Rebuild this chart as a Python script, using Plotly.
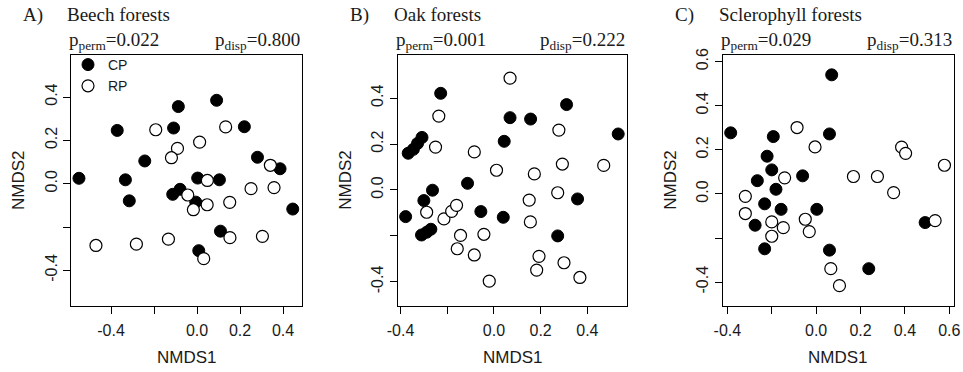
import plotly.graph_objects as go

W, H = 963, 372

# ---------------- data ----------------
panel_letters = ["A)", "B)", "C)"]
panel_titles = ["Beech forests", "Oak forests", "Sclerophyll forests"]
p_perm = ["0.022", "0.001", "0.029"]
p_disp = ["0.800", "0.222", "0.313"]
group_names = ["CP", "RP"]

a_cp_x = [-0.087, 0.091, -0.371, -0.109, 0.220, -0.243, 0.281, 0.386, -0.549, -0.333,
          0.003, 0.104, -0.079, -0.113, -0.315, -0.006, 0.445, 0.109, 0.008]
a_cp_y = [0.356, 0.385, 0.246, 0.257, 0.263, 0.105, 0.122, 0.069, 0.025, 0.018,
          0.026, 0.018, -0.026, -0.049, -0.079, -0.085, -0.117, -0.219, -0.309]
a_rp_x = [-0.192, 0.133, 0.012, -0.091, -0.119, 0.341, 0.048, 0.251, 0.358, -0.043,
          0.047, 0.152, -0.017, -0.470, -0.282, -0.133, 0.153, 0.304, 0.031]
a_rp_y = [0.249, 0.262, 0.192, 0.163, 0.120, 0.085, 0.015, -0.023, -0.018, -0.052,
          -0.097, -0.086, -0.120, -0.285, -0.279, -0.256, -0.249, -0.243, -0.346]

b_cp_x = [0.311, 0.069, 0.157, 0.532, -0.367, -0.345, -0.327, -0.308, 0.044, -0.113,
          -0.263, -0.300, -0.378, -0.056, 0.040, 0.358, -0.310, -0.288, -0.270, 0.273,
          -0.228]
b_cp_y = [0.372, 0.315, 0.309, 0.244, 0.160, 0.177, 0.203, 0.229, 0.212, 0.029,
          -0.001, -0.046, -0.116, -0.094, -0.119, -0.039, -0.196, -0.184, -0.171, -0.200,
          0.421]
b_rp_x = [0.069, -0.236, 0.278, -0.250, -0.084, 0.011, 0.173, 0.293, 0.470, 0.273,
          0.151, -0.288, -0.214, -0.181, -0.160, 0.156, -0.143, -0.043, -0.157, -0.084,
          0.193, 0.300, 0.183, -0.020, 0.368]
b_rp_y = [0.487, 0.322, 0.261, 0.187, 0.166, 0.086, 0.070, 0.113, 0.107, -0.012,
          -0.044, -0.097, -0.126, -0.093, -0.067, -0.139, -0.198, -0.193, -0.256, -0.283,
          -0.289, -0.317, -0.349, -0.397, -0.381]

c_cp_x = [0.070, -0.385, -0.193, 0.060, -0.221, -0.200, -0.265, -0.061, -0.181, -0.232,
          -0.158, 0.003, -0.275, -0.232, 0.060, 0.237, 0.491]
c_cp_y = [0.540, 0.277, 0.260, 0.272, 0.171, 0.109, 0.060, 0.082, 0.021, -0.045,
          -0.070, -0.070, -0.142, -0.249, -0.255, -0.339, -0.130]
c_rp_x = [-0.086, -0.005, 0.385, 0.403, 0.578, 0.168, 0.276, 0.349, -0.142, -0.319,
          -0.319, -0.200, -0.148, -0.049, -0.031, -0.200, 0.536, 0.066, 0.105]
c_rp_y = [0.301, 0.213, 0.212, 0.184, 0.130, 0.079, 0.079, 0.006, 0.073, -0.011,
          -0.089, -0.127, -0.153, -0.115, -0.171, -0.192, -0.121, -0.339, -0.416]

x_ticks = [[-0.4, -0.2, 0.0, 0.2, 0.4], [-0.4, -0.2, 0.0, 0.2, 0.4], [-0.4, -0.2, 0.0, 0.2, 0.4, 0.6]]
x_ticktext = [["-0.4", "", "0.0", "0.2", "0.4"], ["-0.4", "", "0.0", "0.2", "0.4"],
              ["-0.4", "", "0.0", "0.2", "0.4", "0.6"]]
y_ticks = [[-0.4, -0.2, 0.0, 0.2, 0.4], [-0.4, -0.2, 0.0, 0.2, 0.4], [-0.4, -0.2, 0.0, 0.2, 0.4, 0.6]]
y_ticktext = [["-0.4", "", "0.0", "0.2", "0.4"], ["-0.4", "", "0.0", "0.2", "0.4"],
              ["-0.4", "", "0.0", "0.2", "0.4", "0.6"]]

x_ranges = [[-0.586, 0.488], [-0.412, 0.571], [-0.421, 0.621]]
y_ranges = [[-0.563, 0.594], [-0.504, 0.588], [-0.507, 0.630]]

# ---------------- layout geometry (pixels) ----------------
box_left = [71, 397.7, 722.7]
box_right = [302, 627.3, 954]
box_top, box_bottom = 55, 305.7

serif = "Liberation Serif, Times New Roman, serif"
sans = "Liberation Sans, Arial, sans-serif"
ink = "#1a1a1a"

fig = go.Figure()
series = [((a_cp_x, a_cp_y), (a_rp_x, a_rp_y)),
          ((b_cp_x, b_cp_y), (b_rp_x, b_rp_y)),
          ((c_cp_x, c_cp_y), (c_rp_x, c_rp_y))]

for i, (cp, rp) in enumerate(series):
    xa = "x" if i == 0 else f"x{i+1}"
    ya = "y" if i == 0 else f"y{i+1}"
    fig.add_trace(go.Scatter(x=cp[0], y=cp[1], mode="markers", name=group_names[0],
                             xaxis=xa, yaxis=ya, showlegend=(i == 0), legendgroup="cp",
                             marker=dict(size=12, color="black", line=dict(color="black", width=1))))
    fig.add_trace(go.Scatter(x=rp[0], y=rp[1], mode="markers", name=group_names[1],
                             xaxis=xa, yaxis=ya, showlegend=(i == 0), legendgroup="rp",
                             marker=dict(size=12, color="white", line=dict(color="black", width=1.2))))

layout = dict(width=W, height=H, margin=dict(l=0, r=0, t=0, b=0, autoexpand=False),
              paper_bgcolor="white", plot_bgcolor="white", font=dict(family=sans, color=ink))
annotations = []
for i in range(3):
    xk = "xaxis" if i == 0 else f"xaxis{i+1}"
    yk = "yaxis" if i == 0 else f"yaxis{i+1}"
    anchor_x = "y" if i == 0 else f"y{i+1}"
    anchor_y = "x" if i == 0 else f"x{i+1}"
    layout[xk] = dict(domain=[box_left[i] / W, box_right[i] / W], range=x_ranges[i], anchor=anchor_x,
                      tickmode="array", tickvals=x_ticks[i], ticktext=x_ticktext[i], automargin=False,
                      showgrid=False, zeroline=False, showline=True, mirror=True,
                      linecolor="black", linewidth=1, ticks="outside", ticklen=7, tickcolor="black",
                      ticklabelstandoff=3,
                      tickfont=dict(size=16, family=sans, color=ink))
    layout[yk] = dict(domain=[1 - box_bottom / H, 1 - box_top / H], range=y_ranges[i], anchor=anchor_y,
                      tickmode="array", tickvals=y_ticks[i], ticktext=y_ticktext[i], tickangle=-90,
                      automargin=False,
                      showgrid=False, zeroline=False, showline=True, mirror=True,
                      linecolor="black", linewidth=1, ticks="outside", ticklen=7, tickcolor="black",
                      tickfont=dict(size=16, family=sans, color=ink))
    cx = (box_left[i] + box_right[i]) / 2
    # axis titles
    annotations.append(dict(text="NMDS1", x=cx / W, y=1 - 357 / H, xref="paper", yref="paper",
                            showarrow=False, xanchor="center", yanchor="middle",
                            font=dict(size=17, family=sans, color=ink)))
    annotations.append(dict(text="NMDS2", x=(box_left[i] - 53) / W, y=1 - 180 / H, xref="paper", yref="paper",
                            showarrow=False, xanchor="center", yanchor="middle", textangle=-90,
                            font=dict(size=17, family=sans, color=ink)))
    # panel headings
    annotations.append(dict(text=panel_letters[i], x=(box_left[i] - 50) / W, y=1 - 15 / H,
                            xref="paper", yref="paper", showarrow=False, xanchor="left", yanchor="middle",
                            font=dict(size=19, family=serif, color=ink)))
    annotations.append(dict(text=panel_titles[i], x=(box_left[i] - 6) / W, y=1 - 15 / H,
                            xref="paper", yref="paper", showarrow=False, xanchor="left", yanchor="middle",
                            font=dict(size=19, family=serif, color=ink)))
    annotations.append(dict(text=f"p<sub>perm</sub>={p_perm[i]}", x=(box_left[i] - 4) / W, y=1 - 41 / H,
                            xref="paper", yref="paper", showarrow=False, xanchor="left", yanchor="middle",
                            font=dict(size=19, family=serif, color=ink)))
    annotations.append(dict(text=f"p<sub>disp</sub>={p_disp[i]}", x=box_right[i] / W, y=1 - 41 / H,
                            xref="paper", yref="paper", showarrow=False, xanchor="right", yanchor="middle",
                            font=dict(size=19, family=serif, color=ink)))

layout["annotations"] = annotations
layout["legend"] = dict(x=68 / W, y=1 - 49 / H, xanchor="left", yanchor="top",
                        bgcolor="rgba(0,0,0,0)", font=dict(size=14, family=sans, color=ink),
                        itemwidth=30, tracegroupgap=0)
fig.update_layout(**layout)
fig.write_html("out.html")
